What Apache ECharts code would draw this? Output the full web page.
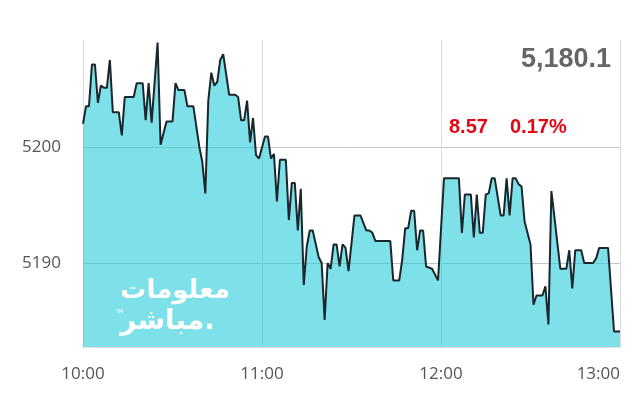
<!DOCTYPE html>
<html>
<head>
<meta charset="utf-8">
<script src="https://cdn.jsdelivr.net/npm/echarts@6/dist/echarts.min.js"></script>
<style>html,body{margin:0;padding:0;background:#fff;}#c{width:640px;height:400px;}</style>
</head>
<body>
<div id="c"></div>
<script>
// minutes after 10:00
const minutes = [0,1,2,3,4,5,6,7,8,9,10,12,13,14,17,18,20,21,22,23,25,26,28,30,31,32,34,35,37,39,40,41,42,43,44,45,46,47,49,51,52,53,54,55,56,57,58,59,61,62,63,64,65,66,68,69,70,71,72,73,74,75,76,77,79,80,81,82,83,84,85,86,87,88,89,91,93,95,96,97,98,103,104,106,107,108,109,110,111,112,113,114,115,117,119,121,126,127,128,130,131,132,133,134,135,136,137,138,140,141,142,143,144,145,146,147,148,150,151,152,154,155,156,157,158,160,162,163,164,165,167,168,171,172,173,176,178,180];
const prices = [5202.0,5203.5,5203.5,5207.1,5207.1,5203.8,5205.3,5205.1,5205.1,5207.5,5203.0,5203.0,5201.0,5204.3,5204.3,5205.5,5205.5,5202.3,5205.5,5202.1,5209.0,5200.2,5202.2,5202.2,5205.5,5204.9,5204.9,5203.5,5203.5,5200.0,5198.7,5196.0,5204.0,5206.4,5205.3,5205.6,5207.5,5208.0,5204.5,5204.5,5204.3,5202.3,5202.3,5204.0,5200.4,5202.5,5199.3,5199.0,5200.9,5200.9,5199.0,5199.4,5195.3,5198.9,5198.9,5193.7,5196.9,5196.9,5192.8,5196.4,5188.1,5191.4,5192.8,5192.8,5190.5,5190.0,5185.1,5190.0,5189.5,5191.6,5191.6,5189.7,5191.6,5191.3,5189.3,5194.1,5194.1,5192.8,5192.8,5192.6,5191.9,5191.9,5188.5,5188.5,5190.3,5193.0,5193.0,5194.5,5194.5,5191.1,5192.8,5192.8,5189.7,5189.5,5188.5,5197.3,5197.3,5192.6,5195.9,5195.9,5192.2,5195.9,5192.6,5192.6,5195.9,5196.0,5197.3,5197.3,5194.1,5194.1,5197.3,5194.1,5197.3,5197.3,5196.8,5196.6,5193.6,5191.6,5186.4,5187.2,5187.2,5188.0,5184.7,5196.2,5194.0,5189.5,5189.5,5191.1,5187.8,5191.1,5191.1,5190.0,5190.0,5190.4,5191.3,5191.3,5184.1,5184.1];
const tickLabels = ['10:00','11:00','12:00','13:00'];
const lastPrice = '5,180.1';
const change = '8.57';
const changePct = '0.17%';
const watermark1 = 'معلومات';
const watermark2 = 'مباشر.';

const data = minutes.map((m, i) => [m, prices[i]]);
const chart = echarts.init(document.getElementById('c'), null, {renderer: 'canvas'});
chart.setOption({
  animation: false,
  grid: {left: 83, right: 20, top: 40, bottom: 53},
  xAxis: {
    type: 'value', min: 0, max: 180, interval: 60,
    axisLine: {show: true, lineStyle: {color: '#e3dcdc', width: 1}},
    axisTick: {show: false},
    axisLabel: {
      color: '#555', fontFamily: 'Open Sans', fontSize: 17, margin: 19,
      alignMaxLabel: 'right',
      formatter: v => tickLabels[Math.round(v / 60)] || ''
    },
    splitLine: {show: true, lineStyle: {color: '#dddddd', width: 1}}
  },
  yAxis: {
    type: 'value', min: 5182.76, max: 5209.22, splitNumber: 3,
    axisLine: {show: false}, axisTick: {show: false},
    axisLabel: {
      color: '#555', fontFamily: 'Open Sans', fontSize: 17, margin: 22,
      showMinLabel: false, showMaxLabel: false,
      formatter: v => (Math.abs(v % 10) < 1e-6 ? String(v) : '')
    },
    splitLine: {show: true, showMinLine: false, showMaxLine: false, lineStyle: {color: '#c4c4c4', width: 1}}
  },
  graphic: [
    {type: 'text', x: 611, y: 60, z: 100, style: {text: lastPrice, fill: '#666', font: 'bold 27px "Liberation Sans", Arial', align: 'right', verticalAlign: 'middle'}},
    {type: 'text', x: 449, y: 127, z: 100, style: {text: change, fill: '#e30613', font: 'bold 20px "Liberation Sans", Arial', align: 'left', verticalAlign: 'middle'}},
    {type: 'text', x: 510, y: 127, z: 100, style: {text: changePct, fill: '#e30613', font: 'bold 20px "Liberation Sans", Arial', align: 'left', verticalAlign: 'middle'}},
    {type: 'text', x: 230, y: 291, z: 100, style: {text: watermark1, fill: '#ffffff', font: 'bold 26px "DejaVu Sans"', align: 'right', verticalAlign: 'middle', shadowColor: 'rgba(0,60,70,0.7)', shadowOffsetX: 2, shadowOffsetY: 2, shadowBlur: 1}},
    {type: 'text', x: 215, y: 322, z: 100, style: {text: watermark2, fill: '#ffffff', font: 'bold 28px "DejaVu Sans"', align: 'right', verticalAlign: 'middle', shadowColor: 'rgba(0,60,70,0.7)', shadowOffsetX: 2, shadowOffsetY: 2, shadowBlur: 1}},
    {type: 'text', x: 116, y: 312, z: 100, style: {text: 'TM', fill: '#ffffff', font: '5px "DejaVu Sans"', align: 'left', verticalAlign: 'middle'}}
  ],
  series: [{
    type: 'line',
    data: data,
    symbol: 'none',
    smooth: false,
    lineStyle: {color: '#1a262b', width: 2},
    areaStyle: {color: 'rgba(40, 205, 220, 0.6)', opacity: 1, origin: 'start'}
  }]
});
</script>
</body>
</html>
